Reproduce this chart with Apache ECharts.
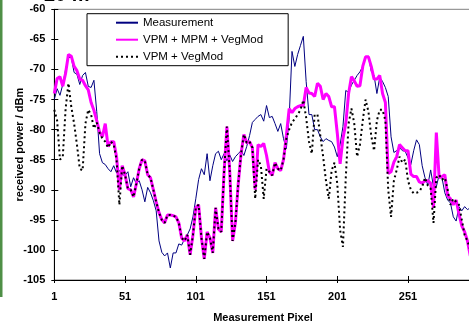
<!DOCTYPE html>
<html>
<head>
<meta charset="utf-8">
<script src="https://cdn.jsdelivr.net/npm/echarts@6/dist/echarts.min.js"></script>
<style>
  html, body { margin: 0; padding: 0; background: #fff; }
  #chart { width: 469px; height: 327px; }
</style>
</head>
<body>
<div id="chart"></div>
<script>
// measurement pixel index (every 2nd pixel)
const pixels = []
for (let i = 1; i <= 295; i += 2) pixels.push(i)

const measurement = [
  -75, -73.2, -74.3, -72.5, -70, -68, -68, -70.5, -70.8, -72.5,
  -71, -70.5, -72.8, -73, -71.8, -77, -84, -85.5, -85.8, -86.5,
  -87, -86, -87.2, -86.8, -87.5, -87.6, -87, -89.5, -88, -89,
  -88.5, -90, -92, -89.6, -90.5, -91.8, -93.5, -98.5, -100.4, -101,
  -100.5, -103, -100.5, -100.5, -99, -99.2, -98.2, -97.5, -96.5, -94.5,
  -91.5, -88.3, -86.5, -87.5, -84, -88.5, -86, -84, -83.6, -85,
  -84, -85.2, -84.2, -85.3, -84.5, -84, -83.5, -84.3, -82.8, -81,
  -78.8, -78.3, -77.8, -77.5, -78.6, -76, -78, -77.8, -79, -80.3,
  -79, -81.5, -83.2, -78, -67, -69.5, -67.5, -66, -64.5, -72,
  -77.5, -77.5, -80, -80, -81.2, -82, -81.5, -81.8, -82, -82.9,
  -84.5, -82.5, -79.5, -73.5, -73.8, -72.6, -71.8, -71, -70.4, -69.5,
  -68, -67.8, -70.3, -71, -74, -71.3, -72, -73, -74.5, -81.2,
  -83.8, -83.5, -83, -83.5, -83.6, -84.7, -85.8, -83.5, -81.7, -82.5,
  -86, -88, -89.2, -86.7, -89.5, -89.5, -87.5, -88, -90.5, -91.7,
  -92.2, -94.5, -95.2, -92.8, -93.5, -92.8, -93.3, -93
]

const vpmMpmVeg = [
  -74, -71.5, -71.2, -72.8, -70.6, -67.5, -67.8, -69.5, -70.2, -71.6,
  -71.8, -72.7, -73.4, -75.5, -76.8, -78.5, -80.4, -81.2, -79, -82.8,
  -82, -82, -84.5, -90, -86, -87.5, -89.8, -90, -91.2, -89,
  -86.5, -85, -85.2, -87.5, -88, -90, -92, -93.8, -95, -95.5,
  -94.2, -94.2, -94.3, -94.5, -95.5, -98, -98.5, -97.5, -100.8, -97.5,
  -93, -92.5, -98, -101.5, -97, -98, -100.5, -93, -96.5, -97,
  -87, -79.5, -87, -98.5, -95.5, -89, -84, -80.8, -82.2, -82,
  -83, -90, -82.5, -82.8, -82.3, -84.3, -87, -87.6, -85.5, -86.5,
  -86.8, -85, -81, -76.5, -77.2, -76.5, -76.2, -76, -76, -73,
  -73.9, -74, -74.5, -72.3, -72.8, -75, -74, -74.5, -76.2, -76.2,
  -80.6, -85.7, -81.5, -79, -74, -71.2, -71.9, -72.8, -72.7, -69.5,
  -67.9, -67.9, -69.5, -71.6, -71.6, -71, -74, -75.5, -87.3, -87,
  -85.4, -84.5, -82.5, -83, -83.5, -83.5, -87.4, -87.8, -87.8, -88.7,
  -88.9, -88.5, -88.5, -88.9, -93, -80.5, -88, -87.8, -87.5, -91,
  -91.5, -92.5, -91.7, -94, -96, -97, -98.5, -101
]

const vpmVeg = [
  -76.7, -78.5, -85, -84.5, -76.5, -72.3, -76.2, -79, -82.5, -86.5,
  -86.8, -79, -76.7, -77.5, -79.8, -78.8, -80.5, -81.5, -82, -83,
  -82, -82.5, -85, -92.5, -86, -87.5, -89.8, -90, -91.2, -89,
  -86.5, -85, -85.2, -87.5, -88, -90, -92, -93.8, -95, -95.5,
  -94.2, -94.2, -94.3, -94.5, -95.5, -98, -98.5, -97.5, -100.8, -97.5,
  -93, -92.5, -98, -101.5, -97, -98, -100.5, -93, -96.5, -97,
  -87, -79.5, -87, -98.5, -95.5, -89, -84, -80.8, -82.2, -82,
  -83, -91.5, -85, -86, -91.5, -86.5, -87, -87.6, -85.5, -86.5,
  -86.8, -85, -81.5, -80, -78.8, -78.2, -77.5, -76.7, -75.1, -78,
  -82, -84, -77.5, -77.5, -81, -84.5, -88.5, -91.5, -86.8, -85.5,
  -89, -96.7, -99.5, -88, -79, -76.5, -79, -84.5, -82.5, -78.5,
  -75, -77, -81, -83.5, -78.5, -76.7, -76.7, -78.5, -90, -94.5,
  -88.5, -86.7, -84.5, -85.5, -85, -88.5, -90, -90.6, -90.5, -90.3,
  -89.5, -88, -89.3, -89.8, -95.5, -88, -87.5, -88.3, -88, -90,
  -92.5, -91.5, -92, -92.5, -95, -97.5, -98.5, -100
]

const yTicks = { min: -105, max: -60, step: 5 }
const xTicks = { min: 1, max: 296, step: 50 }

const font = 'Liberation Sans, Arial, sans-serif'
const pairs = vals => pixels.map((p, i) => [p, vals[i]])

const chart = echarts.init(document.getElementById('chart'), null, { renderer: 'canvas' })

const axisBase = {
  min: xTicks.min,
  max: xTicks.max,
  interval: xTicks.step
}

chart.setOption({
  animation: false,
  backgroundColor: '#fff',
  title: {
    text: '20 m',
    left: 44,
    top: -15,
    padding: 0,
    textStyle: { fontFamily: font, fontSize: 20, fontWeight: 'bold', color: '#000' }
  },
  graphic: [{
    type: 'rect',
    shape: { x: 0, y: 0, width: 2.5, height: 297 },
    style: { fill: '#4f8f46' }
  }],
  legend: {
    orient: 'vertical',
    left: 87,
    top: 13.7,
    padding: [3, 25, 3, 28],
    itemGap: 5,
    itemWidth: 22,
    itemHeight: 14,
    borderColor: '#000',
    borderWidth: 1,
    backgroundColor: '#fff',
    itemStyle: { opacity: 0 },
    textStyle: { fontFamily: font, fontSize: 11.5, color: '#000' },
    data: ['Measurement', 'VPM + MPM + VegMod', 'VPM + VegMod']
  },
  grid: {
    left: 54.3,
    top: 9.3,
    bottom: 47,
    right: -2.7,
    outerBoundsMode: 'none',
    containLabel: false,
    show: true,
    borderColor: '#808080',
    borderWidth: 1,
    backgroundColor: 'transparent'
  },
  xAxis: [{
    ...axisBase,
    type: 'value',
    position: 'bottom',
    name: 'Measurement Pixel',
    nameLocation: 'middle',
    nameGap: 32,
    nameMoveOverlap: false,
    nameTextStyle: { fontFamily: font, fontSize: 11, fontWeight: 'bold', color: '#000' },
    axisLine: { lineStyle: { color: '#000', width: 1 } },
    axisTick: { length: 3, lineStyle: { color: '#000' } },
    axisLabel: {
      margin: 11,
      showMaxLabel: false,
      fontFamily: font, fontSize: 11, fontWeight: 'bold', color: '#000'
    },
    splitLine: { show: false }
  }, {
    ...axisBase,
    type: 'value',
    position: 'bottom',
    axisLine: { show: false },
    axisTick: { inside: true, length: 4, lineStyle: { color: '#000' } },
    axisLabel: { show: false },
    splitLine: { show: false }
  }],
  yAxis: [{
    type: 'value',
    position: 'left',
    min: yTicks.min,
    max: yTicks.max,
    interval: yTicks.step,
    name: 'received power / dBm',
    nameLocation: 'middle',
    nameGap: 29,
    nameRotate: 90,
    nameMoveOverlap: false,
    nameTextStyle: { fontFamily: font, fontSize: 11, fontWeight: 'bold', color: '#000' },
    axisLine: { show: true, lineStyle: { color: '#000', width: 1 } },
    axisTick: { show: true, length: 3, lineStyle: { color: '#000' } },
    axisLabel: { margin: 9, fontFamily: font, fontSize: 11, fontWeight: 'bold', color: '#000' },
    splitLine: { show: false }
  }, {
    type: 'value',
    position: 'left',
    min: yTicks.min,
    max: yTicks.max,
    interval: yTicks.step,
    axisLine: { show: false },
    axisTick: { show: true, inside: true, length: 4, lineStyle: { color: '#000' } },
    axisLabel: { show: false },
    splitLine: { show: false }
  }],
  series: [{
    name: 'Measurement',
    type: 'line',
    symbol: 'none',
    data: pairs(measurement),
    lineStyle: { color: '#000080', width: 1 },
    itemStyle: { color: '#000080' },
    z: 2
  }, {
    name: 'VPM + MPM + VegMod',
    type: 'line',
    symbol: 'none',
    data: pairs(vpmMpmVeg),
    lineStyle: { color: '#ff00ff', width: 3 },
    itemStyle: { color: '#ff00ff' },
    z: 3
  }, {
    name: 'VPM + VegMod',
    type: 'line',
    symbol: 'none',
    data: pairs(vpmVeg),
    lineStyle: { color: '#000', width: 2, type: [2, 3] },
    itemStyle: { color: '#000' },
    z: 4
  }]
})
</script>
</body>
</html>
